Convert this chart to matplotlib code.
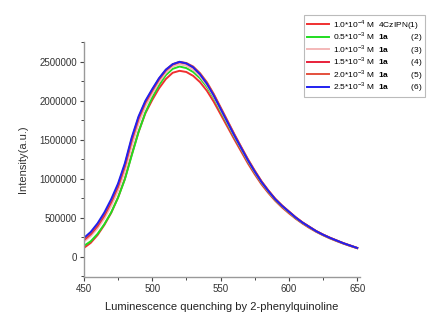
import numpy as np
import matplotlib
matplotlib.use("Agg")
import matplotlib.pyplot as plt
from matplotlib.ticker import MultipleLocator, FuncFormatter

plt.rcParams['font.family'] = ['Liberation Sans', 'DejaVu Sans']
plt.rcParams['mathtext.fontset'] = 'custom'
plt.rcParams['mathtext.rm'] = 'Liberation Sans'
plt.rcParams['mathtext.bf'] = 'Liberation Sans:bold'

# longitud de onda (nm)
wl = [450, 455, 460, 465, 470, 475, 480, 485, 490, 495, 500, 505, 510, 515,
      520, 525, 530, 535, 540, 545, 550, 555, 560, 565, 570, 575, 580, 585,
      590, 595, 600, 605, 610, 615, 620, 625, 630, 635, 640, 645, 650]

# intensidades (miles de a.u.)
s1 = [115, 180, 280, 410, 565, 760, 1000, 1310, 1600, 1840, 2010, 2160, 2280, 2360,
      2385, 2370, 2320, 2240, 2130, 1990, 1830, 1670, 1510, 1355, 1200, 1060, 930, 820,
      720, 635, 560, 490, 428, 372, 322, 278, 238, 203, 170, 140, 112]
s2 = [141, 200, 295, 420, 570, 760, 995, 1300, 1600, 1850, 2040, 2200, 2330, 2410,
      2440, 2420, 2370, 2290, 2180, 2040, 1870, 1705, 1540, 1385, 1225, 1082, 948, 835,
      732, 647, 572, 498, 435, 380, 327, 282, 242, 207, 173, 143, 114]
s3 = [196, 265, 365, 495, 655, 850, 1100, 1420, 1710, 1930, 2090, 2240, 2360, 2440,
      2470, 2450, 2400, 2315, 2200, 2055, 1885, 1718, 1550, 1392, 1232, 1088, 954, 840,
      736, 651, 576, 502, 438, 383, 329, 284, 244, 209, 174, 144, 115]
s4 = [215, 290, 395, 530, 700, 900, 1160, 1490, 1770, 1975, 2130, 2275, 2390, 2465,
      2495, 2478, 2428, 2345, 2228, 2080, 1910, 1740, 1570, 1408, 1248, 1102, 966, 850,
      744, 658, 582, 507, 442, 386, 331, 286, 246, 210, 175, 145, 115]
s5 = [230, 305, 412, 550, 720, 920, 1180, 1510, 1785, 1990, 2140, 2285, 2398, 2470,
      2500, 2485, 2440, 2355, 2240, 2090, 1920, 1750, 1578, 1415, 1255, 1108, 970, 853,
      747, 660, 584, 509, 443, 387, 332, 287, 247, 211, 176, 146, 116]
s6 = [243, 320, 430, 570, 740, 940, 1200, 1530, 1800, 2000, 2150, 2290, 2400, 2470,
      2500, 2480, 2430, 2340, 2220, 2070, 1900, 1730, 1560, 1400, 1240, 1095, 960, 845,
      740, 655, 580, 505, 440, 385, 330, 285, 245, 210, 175, 145, 115]

series = [s1, s2, s3, s4, s5, s6]
colores = ['#f03030', '#20dd20', '#f4b8b8', '#e8203a', '#e4503c', '#2020f0']
etiquetas = [
    r'1.0*10$^{-4}$ M  4CzIPN(1)',
    r'0.5*10$^{-3}$ M  $\mathbf{1a}$          (2)',
    r'1.0*10$^{-3}$ M  $\mathbf{1a}$          (3)',
    r'1.5*10$^{-3}$ M  $\mathbf{1a}$          (4)',
    r'2.0*10$^{-3}$ M  $\mathbf{1a}$          (5)',
    r'2.5*10$^{-3}$ M  $\mathbf{1a}$          (6)',
]

fig = plt.figure(figsize=(4.46, 3.22), dpi=100)
ax = fig.add_axes([0.188, 0.140, 0.619, 0.730])

x = np.array(wl)
for s, c, lab in zip(series, colores, etiquetas):
    ax.plot(x, np.array(s) * 1000, color=c, linewidth=1.4, label=lab)

ax.set_xlim(450, 652)
ax.set_ylim(-256000, 2756000)
ax.xaxis.set_major_locator(MultipleLocator(50))
ax.xaxis.set_minor_locator(MultipleLocator(25))
ax.yaxis.set_major_locator(MultipleLocator(500000))
ax.yaxis.set_minor_locator(MultipleLocator(250000))
ax.yaxis.set_major_formatter(FuncFormatter(lambda v, p: '%d' % v))

for lado in ['top', 'right']:
    ax.spines[lado].set_visible(False)
for lado in ['left', 'bottom']:
    ax.spines[lado].set_color('#999999')
    ax.spines[lado].set_linewidth(1.0)
ax.tick_params(which='major', direction='out', length=3, width=0.8,
               color='#444444', labelsize=7, labelcolor='#333333', pad=2)
ax.tick_params(which='minor', direction='out', length=2, width=0.7, color='#444444')

ax.set_xlabel('Luminescence quenching by 2-phenylquinoline', fontsize=8,
              color='#222222', labelpad=6)
ax.set_ylabel('Intensity(a.u.)', fontsize=8, color='#333333', labelpad=8)

leg = fig.legend(loc='upper left', bbox_to_anchor=(0.682, 0.954), fontsize=6.0,
                 frameon=True, fancybox=False, handlelength=2.6, handletextpad=0.5,
                 labelspacing=-0.18, borderpad=0.35, borderaxespad=0)
leg.get_frame().set_edgecolor('#aaaaaa')
leg.get_frame().set_linewidth(0.8)

fig.savefig('out.png', dpi=100)
